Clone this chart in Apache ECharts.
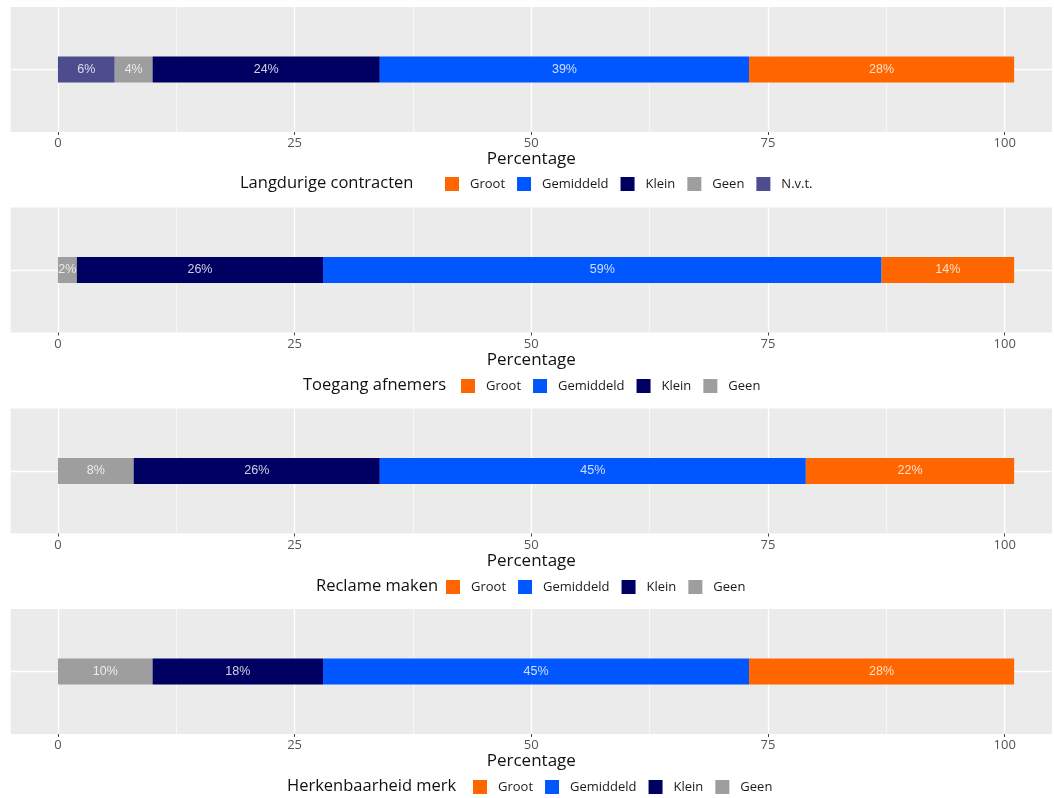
<!DOCTYPE html>
<html>
<head>
<meta charset="utf-8">
<title>Impact per onderwerp</title>
<script src="https://cdn.jsdelivr.net/npm/echarts@6/dist/echarts.min.js"></script>
<style>
  html, body { margin: 0; padding: 0; background: #ffffff; }
  #chart { width: 1054px; height: 798px; }
</style>
</head>
<body>
<div id="chart"></div>
<script>
// Four themes, one stacked percentage bar each
const panelTitles = ['Langdurige contracten', 'Toegang afnemers', 'Reclame maken', 'Herkenbaarheid merk'];

// Answer categories (legend order)
const categories = ['Groot', 'Gemiddeld', 'Klein', 'Geen', 'N.v.t.'];

// Percentages per theme (same order as panelTitles); null = category not asked
const groot     = [28, 14, 22, 28];
const gemiddeld = [39, 59, 45, 45];
const klein     = [24, 26, 26, 18];
const geen      = [4, 2, 8, 10];
const nvt       = [6, null, null, null];

// Axis ticks
const tickValues = [0, 25, 50, 75, 100];
const minorTickValues = [12.5, 37.5, 62.5, 87.5];

const colors = {
  'Groot': '#FF6600',
  'Gemiddeld': '#0057FF',
  'Klein': '#000062',
  'Geen': '#9E9E9E',
  'N.v.t.': '#4C4C8E'
};
const valuesByCategory = {
  'Groot': groot, 'Gemiddeld': gemiddeld, 'Klein': klein, 'Geen': geen, 'N.v.t.': nvt
};
// stacking order from left to right
const stackOrder = ['N.v.t.', 'Geen', 'Klein', 'Gemiddeld', 'Groot'];

// layout
const panelTop = [7, 207.5, 408.5, 609];
const panelHeight = 125;
const legendCenterY = [184, 386, 587, 787];
const legendTitleLeft = [240, 303, 316, 287];
const legendKeysLeft = [445, 461, 446, 473];
const font = '"Open Sans", "DejaVu Sans", sans-serif';

const grid = [], xAxis = [], yAxis = [], series = [], legend = [], title = [];

panelTitles.forEach((name, k) => {
  grid.push({
    left: 10.6, right: 2, top: panelTop[k], height: panelHeight,
    show: true, backgroundColor: '#EBEBEB', borderWidth: 0
  });

  // main axis with labels, ticks and major grid lines
  xAxis.push({
    type: 'value', gridIndex: k, min: -5, max: 105,
    axisLine: { show: false },
    axisTick: { show: true, length: 3, customValues: tickValues, lineStyle: { color: '#444', width: 1 } },
    axisLabel: { show: true, customValues: tickValues, margin: 5, color: '#555', fontSize: 13, fontFamily: font },
    splitLine: { show: true, lineStyle: { color: '#FFFFFF', width: 1.3 } },
    name: 'Percentage', nameLocation: 'middle', nameGap: 13,
    nameTextStyle: { color: '#111', fontSize: 17, fontFamily: font }
  });

  const present = stackOrder.filter(c => valuesByCategory[c][k] != null);
  present.forEach((c, i) => {
    const s = {
      name: c, type: 'bar', stack: 'panel' + k,
      xAxisIndex: k, yAxisIndex: k, barWidth: 26,
      itemStyle: { color: colors[c] },
      label: {
        show: true, position: 'inside',
        formatter: p => p.value + '%',
        color: 'rgba(255,255,255,0.8)', fontSize: 12.5,
        fontFamily: '"Liberation Sans", Arial, sans-serif'
      },
      emphasis: { disabled: true },
      data: [valuesByCategory[c][k]]
    };
    if (i === 0) {
      // horizontal grid line through the bar centre, kept below the bars
      s.markLine = {
        silent: true, symbol: 'none', z: 1,
        label: { show: false },
        lineStyle: { color: '#FFFFFF', width: 1.3, type: 'solid' },
        data: [{ yAxis: 0 }]
      };
    }
    series.push(s);
  });

  yAxis.push({
    type: 'category', gridIndex: k, data: [''],
    axisLine: { show: false },
    axisTick: { show: true, length: 3, alignWithLabel: true, lineStyle: { color: '#444' } },
    axisLabel: { show: false },
    splitLine: { show: false }
  });

  legend.push({
    data: categories.filter(c => valuesByCategory[c][k] != null),
    left: legendKeysLeft[k], top: legendCenterY[k] - 7,
    orient: 'horizontal', icon: 'rect',
    itemWidth: 14, itemHeight: 14, itemGap: 12, padding: 0,
    selectedMode: false,
    textStyle: { color: '#1a1a1a', fontSize: 13, fontFamily: font, padding: [0, 0, 0, 6] }
  });

  title.push({
    text: name, left: legendTitleLeft[k], top: legendCenterY[k] - 9, padding: 0,
    textStyle: { color: '#111', fontSize: 16.5, fontWeight: 'normal', fontFamily: font }
  });
});

// secondary axes: minor vertical grid lines only
panelTitles.forEach((name, k) => {
  xAxis.push({
    type: 'value', gridIndex: k, min: -5, max: 105,
    axisLine: { show: false },
    axisTick: { show: false, customValues: minorTickValues },
    axisLabel: { show: false, customValues: minorTickValues },
    splitLine: { show: true, lineStyle: { color: '#FFFFFF', width: 0.6 } }
  });
});

const chart = echarts.init(document.getElementById('chart'), null, { renderer: 'canvas' });
chart.setOption({
  animation: false,
  backgroundColor: '#FFFFFF',
  title, legend, grid, xAxis, yAxis, series
});
</script>
</body>
</html>
